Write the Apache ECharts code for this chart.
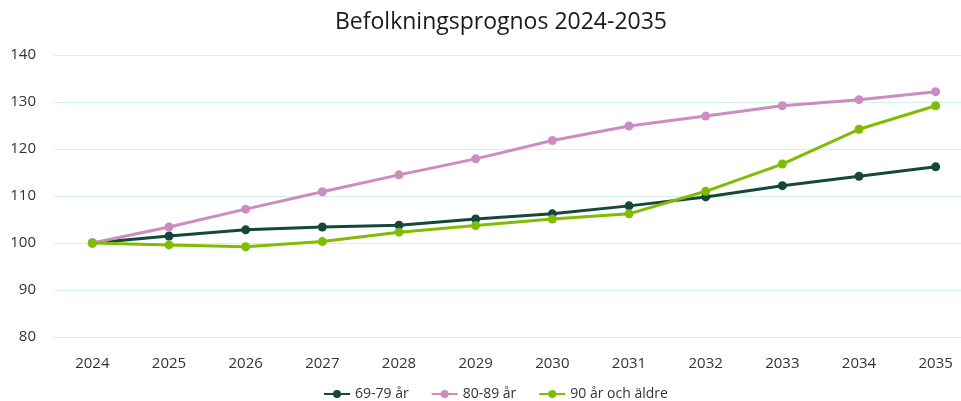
<!DOCTYPE html>
<html><head><meta charset="utf-8">
<script src="https://cdn.jsdelivr.net/npm/echarts@6/dist/echarts.min.js"></script>
<style>html,body{margin:0;padding:0;background:#fff;overflow:hidden;width:961px;height:401px}#c{width:974px;height:401px}</style>
</head><body><div id="c"></div>
<script>
const years = ['2024','2025','2026','2027','2028','2029','2030','2031','2032','2033','2034','2035'];
const s6979 = [100, 101.5, 102.8, 103.4, 103.8, 105.1, 106.2, 107.9, 109.8, 112.2, 114.2, 116.2];
const s8089 = [100, 103.4, 107.2, 110.9, 114.5, 117.9, 121.8, 124.9, 127.0, 129.2, 130.5, 132.2];
const s90 = [100, 99.6, 99.2, 100.3, 102.3, 103.7, 105.1, 106.2, 111.0, 116.8, 124.2, 129.2];
const names = ['69-79 år', '80-89 år', '90 år och äldre'];
const colors = ['#16483A', '#CC8CC2', '#80BC00'];
const FONT = '"Open Sans", "Noto Sans", sans-serif';
const chart = echarts.init(document.getElementById('c'), null, {renderer: 'canvas'});
const mk = (name, data, color) => ({
  name, type: 'line', data, color,
  symbol: 'circle', symbolSize: 9,
  lineStyle: {width: 3, color},
  itemStyle: {color},
  emphasis: {disabled: true}
});
chart.setOption({
  animation: false,
  textStyle: {fontFamily: FONT},
  title: {
    text: 'Befolkningsprognos 2024-2035', left: 496, textAlign: 'center', top: 6,
    textStyle: {fontFamily: FONT, fontSize: 23, fontWeight: 'normal', color: '#1a1a1a'}
  },
  legend: {
    top: 382, left: 318, itemWidth: 26, itemHeight: 10, itemGap: 22,
    textStyle: {fontFamily: FONT, fontSize: 14, color: '#333'},
    data: names
  },
  grid: {left: 54, right: 0, top: 55, bottom: 64, containLabel: false},
  xAxis: {
    type: 'category', data: years, boundaryGap: true,
    axisLine: {show: false}, axisTick: {show: false},
    axisLabel: {fontFamily: FONT, fontSize: 15, color: '#333', margin: 19}
  },
  yAxis: {
    type: 'value', min: 80, max: 140, interval: 10,
    axisLine: {show: false}, axisTick: {show: false},
    axisLabel: {fontFamily: FONT, fontSize: 15, color: '#333', margin: 18},
    splitLine: {lineStyle: {color: '#D6F0EA', width: 1}}
  },
  series: [mk(names[0], s6979, colors[0]), mk(names[1], s8089, colors[1]), mk(names[2], s90, colors[2])]
});
</script></body></html>
